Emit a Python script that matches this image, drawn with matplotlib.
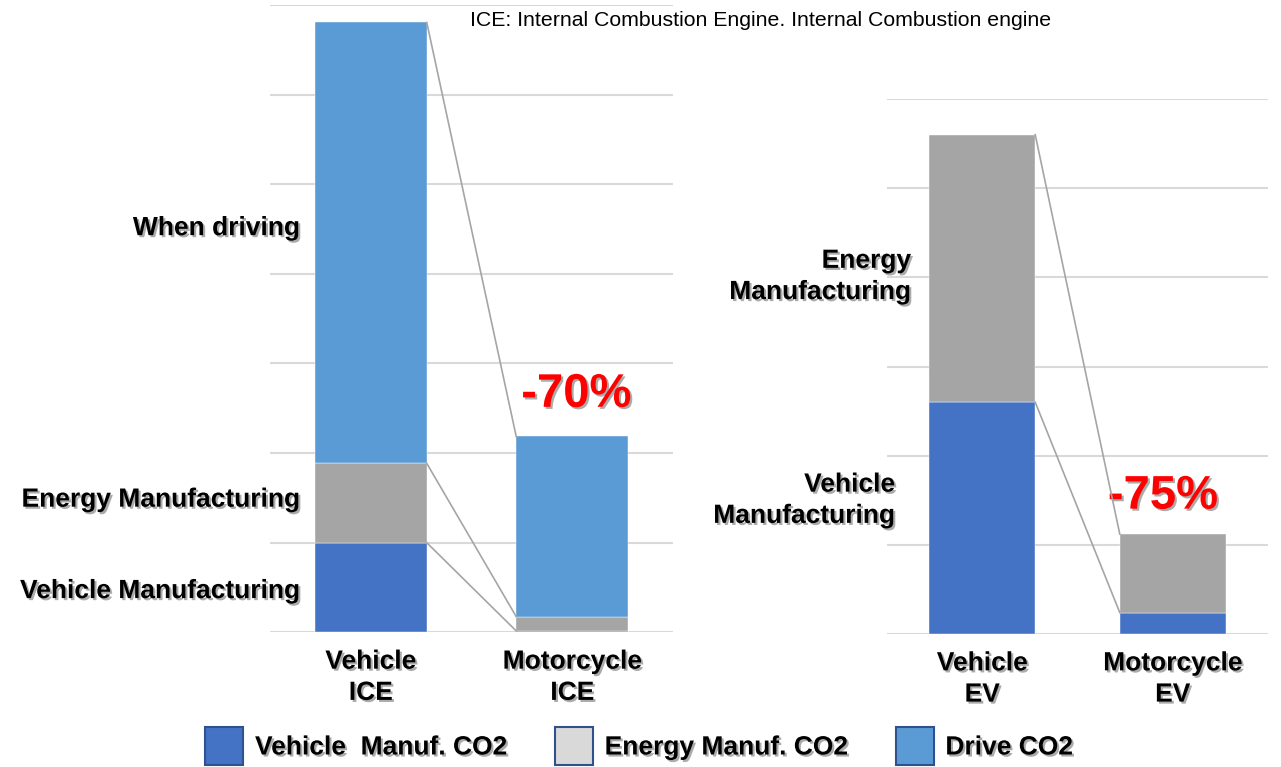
import numpy as np
import matplotlib.pyplot as plt
import matplotlib.patheffects as pe
from matplotlib.patches import Patch

plt.rcParams['font.family'] = ['Liberation Sans', 'DejaVu Sans']

# stacked CO2 per vehicle type (grid step = 1 unit)
ice_labels = ['Vehicle\nICE', 'Motorcycle\nICE']
ice_vehicle = [1.0, 0.015]
ice_energy = [0.885, 0.16]
ice_drive = [4.92, 2.01]

ev_labels = ['Vehicle\nEV', 'Motorcycle\nEV']
ev_vehicle = [2.60, 0.24]
ev_energy = [3.00, 0.88]

ice_change = '-70%'
ev_change = '-75%'

legend_labels = ['Vehicle  Manuf. CO2', 'Energy Manuf. CO2', 'Drive CO2']

c_vehicle = '#4472C4'
c_energy = '#A5A5A5'
c_drive = '#5B9BD5'
c_grid = '#D9D9D9'

shadow = [pe.SimplePatchShadow(offset=(1.5, -1.5), shadow_rgbFace='0.4', alpha=0.55), pe.Normal()]

W, H = 1281, 767
fig = plt.figure(figsize=(W / 100, H / 100), dpi=100)
ax1 = fig.add_axes([270 / W, 1 - 632.3 / H, 403 / W, 627.3 / H])
ax2 = fig.add_axes([887 / W, 1 - 634 / H, 381 / W, 535 / H])

bw = 0.556


def stacked(ax, labels, layers, colors, ymax):
    x = np.arange(len(labels))
    bottom = np.zeros(len(labels))
    tops = []
    for vals, col in zip(layers, colors):
        ax.bar(x, vals, bw, bottom=bottom, color=col, edgecolor='white', linewidth=0.3, zorder=3)
        bottom = bottom + np.array(vals)
        tops.append(bottom.copy())
    # connectors between the two bars at every segment top
    for t in tops:
        ax.plot([x[0] + bw / 2, x[1] - bw / 2], [t[0], t[1]], color='#A5A5A5', lw=1.2, zorder=4)
    ax.set_xlim(-0.5, 1.5)
    ax.set_ylim(0, ymax)
    ax.set_yticks(np.arange(0, ymax + 1))
    ax.yaxis.grid(True, color=c_grid, lw=1.5, zorder=0)
    ax.set_axisbelow(True)
    ax.tick_params(left=False, labelleft=False, bottom=False, pad=9)
    ax.set_xticks(x)
    ax.set_xticklabels(labels, fontsize=19, fontweight='bold', linespacing=1.38)
    for t in ax.get_xticklabels():
        t.set_path_effects(shadow)
    for s in ax.spines.values():
        s.set_visible(False)
    return bottom


ice_tot = stacked(ax1, ice_labels, [ice_vehicle, ice_energy, ice_drive],
                  [c_vehicle, c_energy, c_drive], 7)
ev_tot = stacked(ax2, ev_labels, [ev_vehicle, ev_energy],
                 [c_vehicle, c_energy], 6)

lab = dict(fontsize=19, fontweight='bold', ha='right', va='center',
           multialignment='right', path_effects=shadow, clip_on=False)
ax1.text(-0.351, 4.51, 'When driving', **lab)
ax1.text(-0.351, 1.48, 'Energy Manufacturing', **lab)
ax1.text(-0.351, 0.46, 'Vehicle Manufacturing', **lab)
ax2.text(-0.374, 4.01, 'Energy\nManufacturing', linespacing=1.38, **lab)
ax2.text(-0.458, 1.50, 'Vehicle\nManufacturing', linespacing=1.38, **lab)

pct = dict(fontsize=34, fontweight='bold', color='#FF0000', ha='center', va='center',
           textcoords='offset points', path_effects=shadow, annotation_clip=False)
ax1.annotate(ice_change, (1, ice_tot[1]), xytext=(3, 30), **pct)
ax2.annotate(ev_change, (1, ev_tot[1]), xytext=(-7, 27), **pct)

fig.text(761 / W, 1 - 21 / H, 'ICE: Internal Combustion Engine. Internal Combustion engine',
         fontsize=15.3, ha='center', va='center')

handles = [Patch(facecolor=c, edgecolor='#2F528F', linewidth=1.5)
           for c in [c_vehicle, '#D9D9D9', c_drive]]
leg = fig.legend(handles, legend_labels, loc='center', bbox_to_anchor=(639 / W, 21 / H),
                 ncol=3, frameon=False, prop={'size': 19, 'weight': 'bold'},
                 handlelength=1.44, handleheight=1.85, handletextpad=0.45,
                 columnspacing=1.8, borderpad=0)
for t in leg.get_texts():
    t.set_path_effects(shadow)

fig.savefig('out.png', dpi=100)
